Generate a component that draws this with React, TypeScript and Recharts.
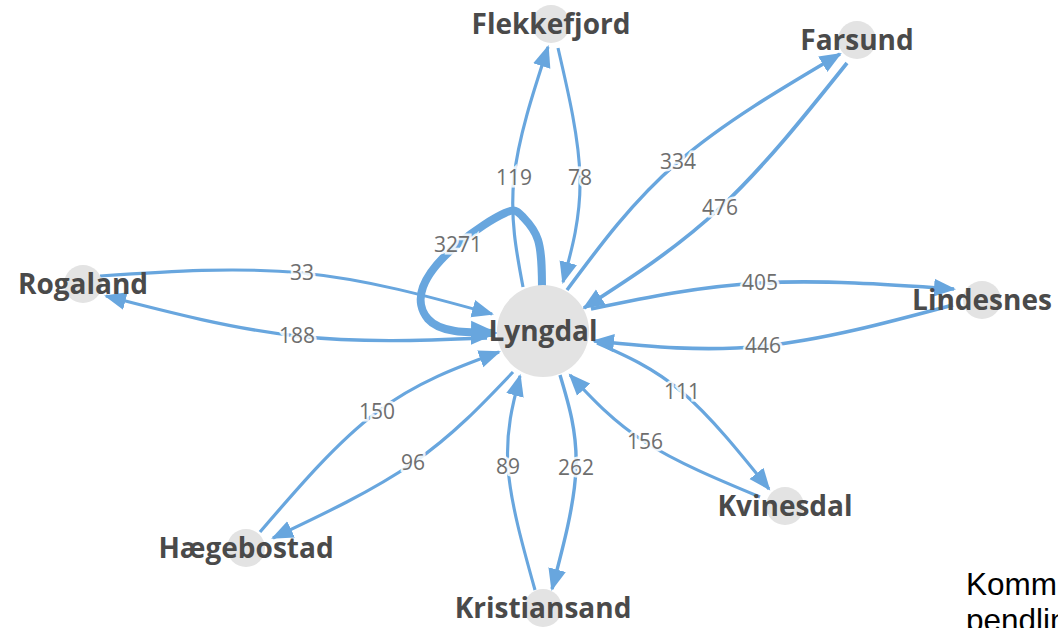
import { ComposedChart, Line, Scatter, XAxis, YAxis } from "recharts";

const W = 1058;
const H = 628;
const HUB = "Lyngdal";

// nodes (centre positions in chart units)
const nodeNames = ["Lyngdal", "Flekkefjord", "Farsund", "Lindesnes", "Rogaland", "Hægebostad", "Kristiansand", "Kvinesdal"];
const nodeX = [543, 551, 857, 982, 83, 246, 543, 785];
const nodeY = [331, 24, 40, 300, 284, 548, 608, 506];

// edges: value, start point, label point on the curve, arrow tip
const edgeValues = [119, 78, 334, 476, 405, 446, 33, 188, 150, 96, 89, 262, 111, 156];
const edgeStart = [[523, 287], [558, 48], [567, 290], [847, 63], [591, 309], [953, 305], [100, 276], [487, 338], [260, 532], [513, 372], [535, 590], [560, 375], [597, 343], [760, 497]];
const edgeMid = [[514, 178], [580, 178], [678, 162], [720, 208], [760, 283], [763, 346], [302, 273], [297, 336], [377, 412], [413, 463], [508, 467], [576, 468], [682, 392], [645, 442]];
const edgeEnd = [[548, 47], [563, 282], [840, 54], [584, 308], [954, 289], [594, 341], [492, 314], [106, 296], [499, 352], [273, 538], [520, 376], [552, 589], [769, 489], [570, 375]];

// Lyngdal -> Lyngdal loop
const loopValue = 3271;
const loopX = [542, 538, 522, 505, 458, 423, 428, 455, 495];
const loopY = [287, 240, 216, 213, 244, 287, 319, 331, 333];
const loopLabel = [458, 245];

const nodes = nodeNames.map((name, i) => ({ name, x: nodeX[i], y: nodeY[i] }));
const edges = edgeValues.map((value, i) => ({
  value,
  points: [
    { x: edgeStart[i][0], y: edgeStart[i][1] },
    { x: edgeMid[i][0], y: edgeMid[i][1] },
    { x: edgeEnd[i][0], y: edgeEnd[i][1] },
  ],
}));
const loopPoints = loopX.map((x, i) => ({ x, y: loopY[i] }));
const edgeLabels = [
  ...edgeValues.map((value, i) => ({ x: edgeMid[i][0], y: edgeMid[i][1], value })),
  { x: loopLabel[0], y: loopLabel[1], value: loopValue },
];

const EDGE = "#68a6de";
const widthFor = (v: number) => 3 + (v / loopValue) * 5;

const NodeCircle = (props: any) => (
  <circle cx={props.cx} cy={props.cy} r={props.payload.name === HUB ? 46 : 19} fill="#e3e3e3" />
);

const NodeLabel = (props: any) => (
  <text
    x={props.cx}
    y={props.cy}
    dy={10}
    textAnchor="middle"
    fontFamily="Open Sans"
    fontWeight={700}
    fontSize={28}
    fill="#4a4a4a"
  >
    {props.payload.name}
  </text>
);

const EdgeLabel = (props: any) => (
  <text
    x={props.cx}
    y={props.cy}
    dy={7}
    textAnchor="middle"
    fontFamily="Open Sans"
    fontSize={21}
    fill="#6e6e6e"
    stroke="rgba(255,255,255,0.85)"
    strokeWidth={5}
    paintOrder="stroke"
  >
    {props.payload.value}
  </text>
);

export default function App() {
  return (
    <div style={{ position: "absolute", left: 0, top: 0, width: W, height: H, overflow: "hidden", background: "#fff" }}>
      <svg width={0} height={0} style={{ position: "absolute" }}>
        <defs>
          <marker id="arrow" markerUnits="userSpaceOnUse" markerWidth={24} markerHeight={20} refX={20} refY={10} orient="auto">
            <path d="M0,1 L22,10 L0,19 z" fill={EDGE} />
          </marker>
          <marker id="arrowBig" markerUnits="userSpaceOnUse" markerWidth={28} markerHeight={26} refX={24} refY={13} orient="auto">
            <path d="M0,1 L27,13 L0,25 z" fill={EDGE} />
          </marker>
        </defs>
      </svg>
      <ComposedChart width={W} height={H} margin={{ top: 0, right: 0, bottom: 0, left: 0 }}>
        <XAxis type="number" dataKey="x" domain={[0, W]} allowDataOverflow hide />
        <YAxis type="number" dataKey="y" domain={[0, H]} reversed allowDataOverflow hide />
        <Scatter data={nodes} shape={NodeCircle} isAnimationActive={false} />
        {edges.map((e, i) => (
          <Line
            key={i}
            data={e.points}
            dataKey="y"
            type="natural"
            stroke={EDGE}
            strokeWidth={widthFor(e.value)}
            dot={false}
            activeDot={false}
            markerEnd="url(#arrow)"
            isAnimationActive={false}
          />
        ))}
        <Line
          data={loopPoints}
          dataKey="y"
          type="natural"
          stroke={EDGE}
          strokeWidth={widthFor(loopValue)}
          dot={false}
          activeDot={false}
          markerEnd="url(#arrowBig)"
          isAnimationActive={false}
        />
        <Scatter data={nodes} shape={NodeLabel} isAnimationActive={false} />
        <Scatter data={edgeLabels} shape={EdgeLabel} isAnimationActive={false} />
      </ComposedChart>
      <div
        style={{
          position: "absolute",
          left: 966,
          top: 566,
          fontFamily: "Liberation Sans, Arial, sans-serif",
          fontSize: 31.5,
          lineHeight: "36px",
          color: "#000",
          whiteSpace: "nowrap",
        }}
      >
        <div>Kommunevis</div>
        <div>pendling</div>
      </div>
    </div>
  );
}
